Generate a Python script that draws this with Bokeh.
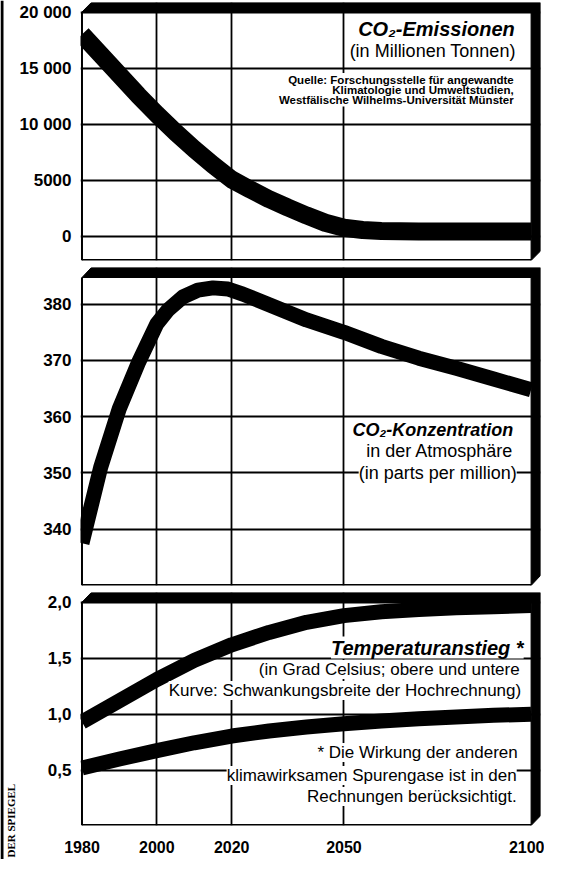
import math
from bokeh.plotting import figure
from bokeh.models import FixedTicker, Grid, Label, BoxAnnotation
from bokeh.layouts import column, row
from bokeh.embed import file_html
from bokeh.resources import INLINE
from bokeh.core.properties import value

# ---------------- data ----------------
YEARS_EMI = [1980, 1985, 1990, 1995, 2000, 2005, 2010, 2015, 2020, 2025, 2030,
             2035, 2040, 2045, 2050, 2055, 2060, 2070, 2080, 2090, 2100]
EMISSIONS = [18000, 16200, 14400, 12600, 10900, 9300, 7800, 6400, 5100, 4200, 3350,
             2600, 1900, 1250, 800, 600, 520, 480, 470, 470, 470]

YEARS_CONC = [1980, 1985, 1990, 1995, 2000, 2003, 2007, 2011, 2015, 2019, 2023, 2030,
              2040, 2050, 2060, 2070, 2080, 2090, 2100]
CONCENTRATION = [337.5, 351, 361.5, 369.5, 376.5, 379, 381.3, 382.5, 382.9, 382.7, 381.8, 379.9,
                 377.2, 375, 372.5, 370.4, 368.6, 366.7, 364.8]

YEARS_TEMP = [1980, 1990, 2000, 2010, 2020, 2030, 2040, 2050, 2060, 2070, 2080, 2090, 2100]
TEMP_UPPER = [0.93, 1.12, 1.31, 1.48, 1.62, 1.73, 1.82, 1.88, 1.915, 1.935, 1.95, 1.96, 1.97]
TEMP_LOWER = [0.52, 0.60, 0.675, 0.745, 0.805, 0.85, 0.885, 0.915, 0.94, 0.96, 0.975, 0.99, 1.0]

X_TICKS = [1980, 2000, 2020, 2050, 2100]
X_TICK_LABELS = ["1980", "2000", "2020", "2050", "2100"]
X_GRID = [2000, 2020, 2050]

EMI_TICKS = [0, 5000, 10000, 15000, 20000]
EMI_TICK_LABELS = ["0", "5000", "10 000", "15 000", "20 000"]
CONC_TICKS = [340, 350, 360, 370, 380]
CONC_TICK_LABELS = ["340", "350", "360", "370", "380"]
TEMP_TICKS = [0.5, 1.0, 1.5, 2.0]
TEMP_TICK_LABELS = ["0,5", "1,0", "1,5", "2,0"]

# ---------------- layout constants ----------------
X_FIRST, X_LAST = 1980, 2100
PX_PER_YEAR = 453 / 120.0
FRAME_W = 464
X_START = X_FIRST - 1.5 / PX_PER_YEAR
X_END = X_START + FRAME_W / PX_PER_YEAR
SIDE_W = 16
FIG_W = 544 - SIDE_W
BORDER_LEFT = 76 - SIDE_W
FONT = "Liberation Sans"
GRID_W = 1.8


def year_at(px):
    return X_FIRST + (px - 85.5) / PX_PER_YEAR


def style_axis(ax, size, standoff):
    ax.axis_line_color = None
    ax.major_tick_line_color = None
    ax.minor_tick_line_color = None
    ax.major_label_standoff = standoff
    ax.major_label_text_font = FONT
    ax.major_label_text_font_style = "bold"
    ax.major_label_text_font_size = size
    ax.major_label_text_color = "black"


def make_panel(frame_h, top, bottom, y_start, y_end, ticks, tick_labels, show_x):
    h = frame_h + top + bottom
    p = figure(width=FIG_W, height=h, x_range=(X_START, X_END), y_range=(y_start, y_end),
               output_backend="svg", toolbar_location=None,
               x_axis_location="below" if show_x else None,
               min_border_left=BORDER_LEFT, min_border_right=4,
               min_border_top=top, min_border_bottom=bottom,
               outline_line_color=None, background_fill_color="white",
               border_fill_color="white")
    p.grid.grid_line_color = None
    p.add_layout(Grid(dimension=0, ticker=FixedTicker(ticks=X_GRID),
                      grid_line_color="black", grid_line_width=GRID_W))
    p.add_layout(Grid(dimension=1, ticker=FixedTicker(ticks=ticks),
                      grid_line_color="black", grid_line_width=GRID_W))
    ax = p.yaxis[0]
    ax.ticker = FixedTicker(ticks=ticks)
    ax.major_label_overrides = dict(zip(ticks, tick_labels))
    style_axis(ax, "17px", 3)
    if show_x:
        xa = p.xaxis[0]
        xa.ticker = FixedTicker(ticks=X_TICKS)
        xa.major_label_overrides = dict(zip(X_TICKS, X_TICK_LABELS))
        style_axis(xa, "16px", 9)
    return p


def frame_decor(p, y_start, y_end, plot_top):
    dx = X_END - X_LAST
    dy = y_end - plot_top
    p.line([X_FIRST, X_FIRST], [y_start, plot_top], line_color="black", line_width=2)
    p.line([X_FIRST, X_LAST], [y_start, y_start], line_color="black", line_width=3)
    xs = [X_FIRST, X_FIRST + dx, X_END, X_END, X_LAST, X_LAST]
    ys = [plot_top, y_end, y_end, y_start + dy, y_start, plot_top]
    p.patch(xs, ys, fill_color="black", line_color="black", line_width=1)


def add_text(p, x_px, y_val, text, size, style="normal", bg="white"):
    p.add_layout(Label(x=year_at(x_px), y=y_val, text=text, text_align="right",
                       text_baseline="middle", text_font=FONT, text_font_size=size,
                       text_font_style=style, text_color="black",
                       background_fill_color=bg))


def curve(p, xs, ys, width):
    p.line(xs, ys, line_color="black", line_width=width, line_cap="butt", line_join="round")


# ---------------- panel 1: emissions ----------------
E_PER_PX = 5000 / 56.2
e_start = -(268 - 244.3) * E_PER_PX
e_end = 20000 + 9.5 * E_PER_PX
p1 = make_panel(258, 2, 3, e_start, e_end, EMI_TICKS, EMI_TICK_LABELS, False)
curve(p1, YEARS_EMI, EMISSIONS, 18)
frame_decor(p1, e_start, e_end, 20000)


def v1(py):
    return (244.3 - py) * E_PER_PX


add_text(p1, 522, v1(36), "CO₂-Emissionen", "20px", "bold italic")
add_text(p1, 523, v1(58), "(in Millionen Tonnen)", "18px")
p1.add_layout(BoxAnnotation(left=year_at(282), right=year_at(524), top=v1(80.5), bottom=v1(114),
                            fill_color="white", fill_alpha=1.0, line_color=None))
add_text(p1, 521, v1(87), "Quelle: Forschungsstelle für angewandte", "11.5px", "bold", None)
add_text(p1, 521, v1(97.5), "Klimatologie und Umweltstudien,", "11.5px", "bold", None)
add_text(p1, 521, v1(107.5), "Westfälische Wilhelms-Universität Münster", "11.5px", "bold", None)

# ---------------- panel 2: concentration ----------------
C_PER_PX = 10 / 56.25
c_start = 380 - (593 - 311.7) * C_PER_PX
c_end = 380 + (311.7 - 275) * C_PER_PX
c_top = 380 + (311.7 - 285) * C_PER_PX
p2 = make_panel(318, 4, 3, c_start, c_end, CONC_TICKS, CONC_TICK_LABELS, False)
curve(p2, YEARS_CONC, CONCENTRATION, 15)
frame_decor(p2, c_start, c_end, c_top)


def v2(py):
    return 380 - (py - 311.7) * C_PER_PX


add_text(p2, 520.6, v2(437.5), "CO₂-Konzentration", "18px", "bold italic")
add_text(p2, 520.6, v2(458), "in der Atmosphäre", "18px")
add_text(p2, 524, v2(480), "(in parts per million)", "18px")

# ---------------- panel 3: temperature ----------------
T_PER_PX = 0.5 / 56.0
t_start = 2.0 - (833 - 609.7) * T_PER_PX
t_end = 2.0 + (609.7 - 600) * T_PER_PX
p3 = make_panel(233, 4, 34, t_start, t_end, TEMP_TICKS, TEMP_TICK_LABELS, True)
curve(p3, YEARS_TEMP, TEMP_UPPER, 15)
curve(p3, YEARS_TEMP, TEMP_LOWER, 15)
frame_decor(p3, t_start, t_end, 2.0)


def v3(py):
    return 2.0 - (py - 609.7) * T_PER_PX


add_text(p3, 531, v3(655), "Temperaturanstieg *", "20px", "bold italic")
add_text(p3, 527, v3(677), "(in Grad Celsius; obere und untere", "17px")
add_text(p3, 528.5, v3(698), "Kurve: Schwankungsbreite der Hochrechnung)", "17px")
add_text(p3, 525, v3(760), "* Die Wirkung der anderen", "17px")
add_text(p3, 524, v3(783), "klimawirksamen Spurengase ist in den", "17px")
add_text(p3, 524, v3(804), "Rechnungen berücksichtigt.", "17px")

# ---------------- side strip: page rule and publisher mark ----------------
TOTAL_H = p1.height + p2.height + p3.height
side = figure(width=SIDE_W, height=TOTAL_H, x_range=(0, SIDE_W), y_range=(0, TOTAL_H),
              output_backend="svg", toolbar_location=None,
              x_axis_location=None, y_axis_location=None, min_border=0,
              outline_line_color=None, background_fill_color="white",
              border_fill_color="white")
side.grid.grid_line_color = None
side.line([1.5, 1.5], [0, TOTAL_H], line_color="black", line_width=3)
side.text(x=[10], y=[2], text=["DER SPIEGEL"], angle=math.pi / 2, text_align="left",
          text_baseline="middle", text_font=value("Liberation Serif"),
          text_font_size="11px", text_font_style="bold", text_color="black")

layout = row(side, column(p1, p2, p3, spacing=0), spacing=0)
open("out.html", "w", encoding="utf-8").write(file_html(layout, INLINE))
